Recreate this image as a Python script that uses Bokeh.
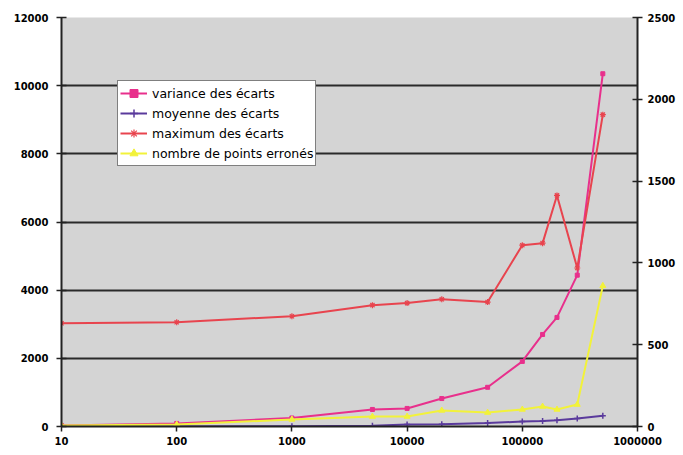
from bokeh.plotting import figure
from bokeh.models import Range1d, LinearAxis, FixedTicker, NumeralTickFormatter, Legend
from bokeh.embed import file_html
from bokeh.resources import INLINE

n_points = [10, 100, 1000, 5000, 10000, 20000, 50000, 100000, 150000, 200000, 300000, 500000]
variance = [30, 90, 250, 500, 530, 820, 1150, 1910, 2700, 3200, 4440, 10350]
moyenne = [0, 0, 2, 5, 12, 14, 22, 30, 33, 38, 49, 66]
maximum = [3030, 3060, 3235, 3560, 3620, 3735, 3650, 5320, 5380, 6780, 4650, 9150]
nombre = [6, 12, 43, 61, 61, 98, 85, 104, 122, 104, 134, 860]

labels = ["variance des écarts", "moyenne des écarts", "maximum des écarts", "nombre de points erronés"]
left_ticks = [0, 2000, 4000, 6000, 8000, 10000, 12000]
right_ticks = [0, 500, 1000, 1500, 2000, 2500]
x_ticks = [10, 100, 1000, 10000, 100000, 1000000]

C_PINK = "#E8308C"
C_PURPLE = "#5A3A9C"
C_RED = "#E8444E"
C_YELLOW = "#F2F23A"

p = figure(width=678, height=450, x_axis_type="log",
           x_range=Range1d(10, 1000000), y_range=Range1d(0, 12000),
           output_backend="svg", toolbar_location=None,
           min_border_left=61, min_border_right=38, min_border_top=17, min_border_bottom=24)
p.extra_y_ranges = {"right": Range1d(0, 2500)}

p.background_fill_color = "#D4D4D4"
p.border_fill_color = "white"
p.outline_line_color = None

p.xgrid.visible = False
p.ygrid.ticker = FixedTicker(ticks=[2000, 4000, 6000, 8000, 10000])
p.ygrid.grid_line_color = "#2a2a2a"
p.ygrid.grid_line_width = 2

font = "DejaVu Sans"

def style_axis(ax):
    ax.axis_line_color = "#222222"
    ax.axis_line_width = 2
    ax.major_tick_line_color = "#222222"
    ax.major_tick_line_width = 1.5
    ax.minor_tick_line_color = None
    ax.major_label_text_font = font
    ax.major_label_text_font_style = "bold"
    ax.major_label_text_font_size = "10px"
    ax.major_label_text_color = "black"

xa = p.xaxis[0]
style_axis(xa)
xa.ticker = FixedTicker(ticks=x_ticks)
xa.formatter = NumeralTickFormatter(format="0")
xa.major_tick_in = 0
xa.major_tick_out = 5
xa.major_label_standoff = 5

ya = p.yaxis[0]
style_axis(ya)
ya.ticker = FixedTicker(ticks=left_ticks)
ya.formatter = NumeralTickFormatter(format="0")
ya.major_tick_in = 5
ya.major_tick_out = 5
ya.major_label_standoff = 8

ra = LinearAxis(y_range_name="right", ticker=FixedTicker(ticks=right_ticks),
                formatter=NumeralTickFormatter(format="0"))
style_axis(ra)
ra.major_tick_in = 5
ra.major_tick_out = 5
ra.major_label_standoff = 5
p.add_layout(ra, "right")

r1 = p.line(n_points, variance, color=C_PINK, line_width=2)
m1 = p.scatter(n_points, variance, marker="square", size=4, color=C_PINK)
r2 = p.line(n_points, moyenne, color=C_PURPLE, line_width=2, y_range_name="right")
m2 = p.scatter(n_points, moyenne, marker="cross", size=6, line_width=1.5, color=C_PURPLE, y_range_name="right")
r3 = p.line(n_points, maximum, color=C_RED, line_width=2)
m3 = p.scatter(n_points, maximum, marker="asterisk", size=6, line_width=1.2, color=C_RED)
r4 = p.line(n_points, nombre, color=C_YELLOW, line_width=2, y_range_name="right")
m4 = p.scatter(n_points, nombre, marker="triangle", size=6, color=C_YELLOW, y_range_name="right")

legend = Legend(items=[(labels[0], [r1, m1]), (labels[1], [r2, m2]),
                       (labels[2], [r3, m3]), (labels[3], [r4, m4])],
                location=(56, 260))
legend.background_fill_color = "white"
legend.background_fill_alpha = 1
legend.border_line_color = "black"
legend.border_line_width = 1.5
legend.padding = 2
legend.spacing = 0
legend.margin = 0
legend.glyph_width = 27
legend.glyph_height = 20
legend.label_height = 20
legend.label_standoff = 5
legend.label_text_font = font
legend.label_text_font_size = "12.5px"
legend.label_text_color = "black"
p.add_layout(legend, "center")

open("out.html", "w").write(file_html(p, INLINE))
